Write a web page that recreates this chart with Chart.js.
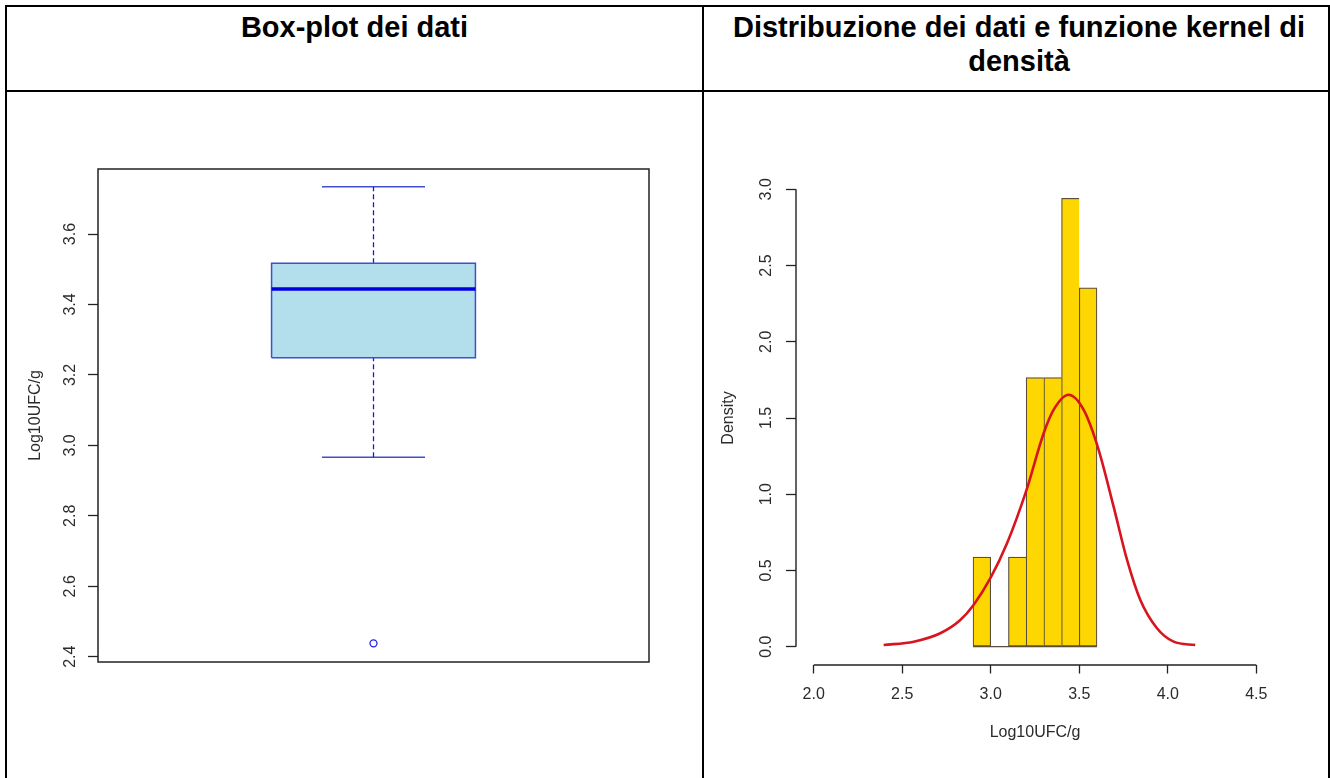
<!DOCTYPE html>
<html>
<head>
<meta charset="utf-8">
<script src="https://cdn.jsdelivr.net/npm/chart.js@4.4.1/dist/chart.umd.min.js"></script>
<style>
  html, body { margin: 0; padding: 0; background: #fff; }
  #page { position: relative; width: 1330px; height: 778px; overflow: hidden;
          font-family: "Liberation Sans", Arial, sans-serif; }
  .rule { position: absolute; background: #000; }
  .head { position: absolute; top: 10px; font-weight: bold; font-size: 29px;
          line-height: 34px; text-align: center; color: #000; }
  .plot { position: absolute; top: 92px; }
</style>
</head>
<body>
<div id="page">
  <div class="rule" style="left:5px;top:5px;width:1325px;height:2px"></div>
  <div class="rule" style="left:5px;top:90px;width:1325px;height:2px"></div>
  <div class="rule" style="left:5px;top:5px;width:2px;height:773px"></div>
  <div class="rule" style="left:702px;top:5px;width:2px;height:773px"></div>
  <div class="rule" style="left:1328px;top:5px;width:2px;height:773px"></div>

  <div class="head" style="left:7px;width:695px">Box-plot dei dati</div>
  <div class="head" style="left:710px;width:618px">Distribuzione dei dati e funzione kernel di<br>densità</div>

  <div class="plot" style="left:0px;width:702px;height:686px"><canvas id="boxChart" width="702" height="686"></canvas></div>
  <div class="plot" style="left:704px;width:624px;height:686px"><canvas id="histChart" width="624" height="686"></canvas></div>
</div>

<script>
// ---- box-plot summary (Log10UFC/g) ----
const boxTicks = [2.4, 2.6, 2.8, 3.0, 3.2, 3.4, 3.6];
const whiskerLow = 2.966;
const quartile1 = 3.249;
const medianValue = 3.444;
const quartile3 = 3.517;
const whiskerHigh = 3.734;
const outlierValues = [2.438];

// ---- histogram (density scale) ----
const binStarts = [2.9, 3.0, 3.1, 3.2, 3.3, 3.4, 3.5];
const binDensity = [0.588, 0, 0.588, 1.765, 1.765, 2.941, 2.353];
const densityTicks = [0, 0.5, 1.0, 1.5, 2.0, 2.5, 3.0];
const logTicks = [2.0, 2.5, 3.0, 3.5, 4.0, 4.5];

// ---- kernel density estimate ----
const kernelX = [2.395, 2.565, 2.715, 2.828, 2.903, 2.998, 3.092, 3.199, 3.299, 3.355,
                 3.440, 3.525, 3.604, 3.694, 3.770, 3.845, 3.939, 4.033, 4.155];
const kernelY = [0.011, 0.033, 0.088, 0.175, 0.274, 0.449, 0.678, 1.017, 1.400, 1.553,
                 1.652, 1.553, 1.312, 0.919, 0.569, 0.306, 0.121, 0.033, 0.011];

const binWidth = +(binStarts[1] - binStarts[0]).toFixed(3);

Chart.defaults.font.family = '"Liberation Sans", Arial, sans-serif';
Chart.defaults.font.size = 16;
Chart.defaults.color = '#2b2b2b';
Chart.defaults.animation = false;

const INK = '#222';
const fmt1 = v => Number(v).toFixed(1);

// closed frame round the plotting region
const framePlugin = {
  id: 'frame',
  afterDraw(chart) {
    const { ctx, chartArea: a } = chart;
    ctx.save();
    ctx.strokeStyle = INK;
    ctx.lineWidth = 1.5;
    ctx.strokeRect(a.left, a.top, a.right - a.left, a.bottom - a.top);
    ctx.restore();
  }
};

// axis lines that run only from the first to the last tick
const tickSpanAxes = {
  id: 'tickSpanAxes',
  afterDraw(chart) {
    const { ctx, chartArea: a, scales: { x, y } } = chart;
    ctx.save();
    ctx.strokeStyle = INK;
    ctx.lineWidth = 1.4;
    ctx.beginPath();
    ctx.moveTo(a.left, y.getPixelForValue(densityTicks[0]));
    ctx.lineTo(a.left, y.getPixelForValue(densityTicks[densityTicks.length - 1]));
    ctx.moveTo(x.getPixelForValue(logTicks[0]), a.bottom);
    ctx.lineTo(x.getPixelForValue(logTicks[logTicks.length - 1]), a.bottom);
    ctx.stroke();
    ctx.restore();
  }
};

const fixedTicks = list => scale => { scale.ticks = list.map(v => ({ value: v })); };

// ================= box plot =================
const BOX_HALF = 0.185;     // half box width, x units
const STAPLE_HALF = 0.0935; // half whisker-cap width
const BOX_EDGE = '#3f4fd2';
const seg = (x0, y0, x1, y1) => [{ x: x0, y: y0 }, { x: x1, y: y1 }];

new Chart(document.getElementById('boxChart'), {
  type: 'scatter',
  data: {
    datasets: [
      { data: seg(1 - BOX_HALF, medianValue, 1 + BOX_HALF, medianValue),
        showLine: true, borderColor: '#0000e0', borderWidth: 3.5, pointRadius: 0 },
      { data: [{ x: 1 - BOX_HALF, y: quartile1 }, { x: 1 + BOX_HALF, y: quartile1 },
               { x: 1 + BOX_HALF, y: quartile3 }, { x: 1 - BOX_HALF, y: quartile3 },
               { x: 1 - BOX_HALF, y: quartile1 }],
        showLine: true, borderColor: BOX_EDGE, borderWidth: 1.5, pointRadius: 0 },
      { data: seg(1, quartile3, 1, whiskerHigh),
        showLine: true, borderColor: '#1d1dcc', borderWidth: 1.3, borderDash: [5, 3], pointRadius: 0 },
      { data: seg(1, whiskerLow, 1, quartile1),
        showLine: true, borderColor: '#1d1dcc', borderWidth: 1.3, borderDash: [5, 3], pointRadius: 0 },
      { data: seg(1 - STAPLE_HALF, whiskerHigh, 1 + STAPLE_HALF, whiskerHigh),
        showLine: true, borderColor: BOX_EDGE, borderWidth: 1.5, pointRadius: 0 },
      { data: seg(1 - STAPLE_HALF, whiskerLow, 1 + STAPLE_HALF, whiskerLow),
        showLine: true, borderColor: BOX_EDGE, borderWidth: 1.5, pointRadius: 0 },
      { data: outlierValues.map(v => ({ x: 1, y: v })),
        showLine: false, pointRadius: 3.5, pointStyle: 'circle',
        pointBorderColor: '#1f1fee', pointBackgroundColor: 'rgba(0,0,0,0)', pointBorderWidth: 1.3 },
      { data: seg(1 - BOX_HALF, quartile3, 1 + BOX_HALF, quartile3),
        showLine: true, borderWidth: 0, pointRadius: 0,
        fill: { value: quartile1 }, backgroundColor: 'rgb(178,223,235)' }
    ]
  },
  options: {
    responsive: false,
    layout: { padding: { left: 0, right: 53, top: 77, bottom: 116 } },
    plugins: { legend: { display: false }, tooltip: { enabled: false } },
    scales: {
      x: { type: 'linear', min: 0.5, max: 1.5, display: false },
      y: {
        type: 'linear', min: 2.385, max: 3.7846,
        afterBuildTicks: fixedTicks(boxTicks),
        afterFit: s => { s.width = 98; },
        border: { display: false },
        grid: { drawOnChartArea: false, drawTicks: true, tickLength: 10, tickColor: INK, tickWidth: 1.3 },
        ticks: { minRotation: 90, maxRotation: 90, crossAlign: 'center', padding: 6.5, color: '#2b2b2b',
                 callback: fmt1 },
        title: { display: true, text: 'Log10UFC/g', color: '#2b2b2b', padding: { top: 25.5, bottom: 0 } }
      }
    }
  },
  plugins: [framePlugin]
});

// ================= histogram + kernel =================
const lastBin = binStarts.length - 1;
new Chart(document.getElementById('histChart'), {
  type: 'bar',
  data: {
    datasets: [
      { type: 'line', data: kernelX.map((x, i) => ({ x, y: kernelY[i] })),
        borderColor: '#d8141e', borderWidth: 2.6, pointRadius: 0,
        cubicInterpolationMode: 'monotone', fill: false },
      { type: 'line', data: seg(binStarts[0], 0, binStarts[lastBin] + binWidth, 0),
        borderColor: '#5a4e3c', borderWidth: 1.2, pointRadius: 0, fill: false },
      { type: 'bar', data: binStarts.map((s, i) => ({ x: s + binWidth / 2, y: binDensity[i] })),
        backgroundColor: '#FFD700', borderColor: '#5a4e3c', borderSkipped: false,
        borderWidth: c => ({ left: 1.2, top: 1.2, bottom: 1.2,
          right: (c.dataIndex === lastBin || binDensity[c.dataIndex + 1] === 0) ? 1.2 : 0 }),
        barPercentage: 1, categoryPercentage: 1 }
    ]
  },
  options: {
    responsive: false,
    layout: { padding: { left: 0, right: 54, top: 79, bottom: 0 } },
    plugins: { legend: { display: false }, tooltip: { enabled: false } },
    scales: {
      x: {
        type: 'linear', min: 1.9, max: 4.6, offset: false,
        afterBuildTicks: fixedTicks(logTicks),
        afterFit: s => { s.height = 113; },
        border: { display: false },
        grid: { offset: false, drawOnChartArea: false, drawTicks: true, tickLength: 8.5, tickColor: INK, tickWidth: 1.3 },
        ticks: { padding: 11.5, color: '#2b2b2b', maxRotation: 0, callback: fmt1 },
        title: { display: true, text: 'Log10UFC/g', color: '#2b2b2b', padding: { top: 0, bottom: 35.5 } }
      },
      y: {
        type: 'linear', min: -0.12, max: 3.12,
        afterBuildTicks: fixedTicks(densityTicks),
        afterFit: s => { s.width = 92; },
        border: { display: false },
        grid: { drawOnChartArea: false, drawTicks: true, tickLength: 10, tickColor: INK, tickWidth: 1.3 },
        ticks: { minRotation: 90, maxRotation: 90, crossAlign: 'center', padding: 8, color: '#2b2b2b',
                 callback: fmt1 },
        title: { display: true, text: 'Density', color: '#2b2b2b', padding: { top: 14.5, bottom: 0 } }
      }
    }
  },
  plugins: [tickSpanAxes]
});
</script>
</body>
</html>
